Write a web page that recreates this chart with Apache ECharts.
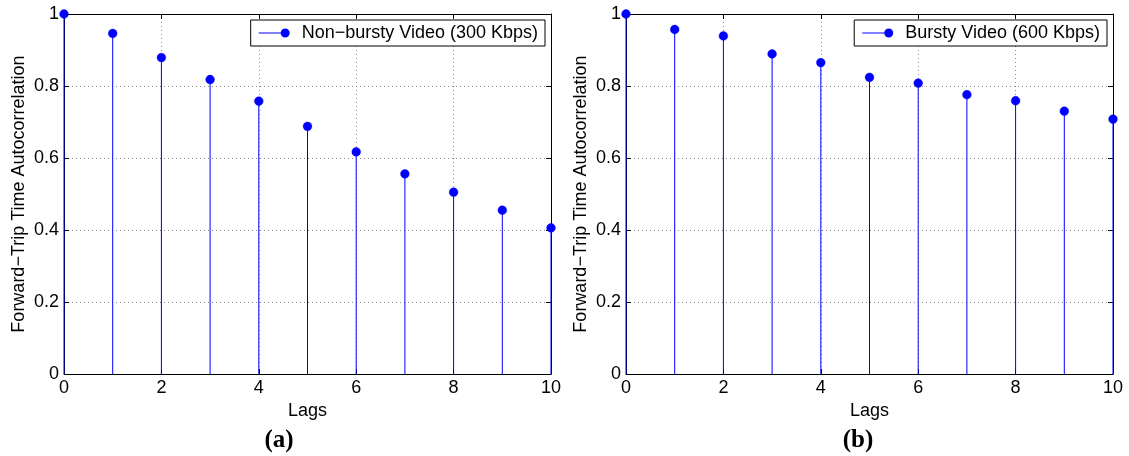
<!DOCTYPE html>
<html>
<head>
<meta charset="utf-8">
<script src="https://cdn.jsdelivr.net/npm/echarts@6/dist/echarts.min.js"></script>
<style>
  html, body { margin: 0; padding: 0; background: #fff; }
  #chart { width: 1129px; height: 456px; }
</style>
</head>
<body>
<div id="chart"></div>
<script>
// Autocorrelation of forward-trip time versus lag, two video traffic types
const lags = [0, 1, 2, 3, 4, 5, 6, 7, 8, 9, 10];
const nonBurstyAcf = [1.0, 0.946, 0.879, 0.818, 0.758, 0.688, 0.617, 0.556, 0.505, 0.455, 0.406];
const burstyAcf = [1.0, 0.957, 0.939, 0.889, 0.865, 0.824, 0.808, 0.776, 0.759, 0.730, 0.708];
const seriesNames = ['Non\u2212bursty Video (300 Kbps)', 'Bursty Video (600 Kbps)'];
const panelLabels = ['(a)', '(b)'];
const xLabel = 'Lags';
const yLabel = 'Forward\u2212Trip Time Autocorrelation';

const FONT = '"Liberation Sans", Arial, Helvetica, sans-serif';
const SERIF = '"Liberation Serif", "DejaVu Serif", serif';
const BLUE = '#0000ff';

// stem: vertical line from the baseline up to the value, capped with a dot
function stemRenderer(params, api) {
  const x = api.value(0), y = api.value(1);
  const top = api.coord([x, y]);
  const base = api.coord([x, 0]);
  return {
    type: 'group',
    children: [
      { type: 'line', shape: { x1: top[0], y1: base[1], x2: top[0], y2: top[1] },
        style: { stroke: BLUE, lineWidth: 1 } },
      { type: 'circle', shape: { cx: top[0], cy: top[1], r: 4.4 },
        style: { fill: BLUE, stroke: BLUE, lineWidth: 0.4 } }
    ]
  };
}

const grids = [
  { left: 64, right: 578, top: 14, bottom: 82 },
  { left: 626, right: 16, top: 14, bottom: 82 }
];

const xAxes = [], yAxes = [], series = [];
const tickLbl = { color: '#000', fontFamily: FONT, fontSize: 18 };
const dataSets = [nonBurstyAcf, burstyAcf];
const edge = { show: true, onZero: false, lineStyle: { color: '#000', width: 1 } };
const inTick = { show: true, inside: true, length: 5, lineStyle: { color: '#000' } };
const dotted = { show: true, lineStyle: { color: '#8a8a8a', type: [1, 3], width: 1 } };

grids.forEach((g, i) => {
  // bottom x axis with labels and dotted grid
  xAxes.push({
    type: 'value', gridIndex: i, min: 0, max: 10, interval: 2, position: 'bottom',
    name: xLabel, nameLocation: 'middle', nameGap: 25,
    nameTextStyle: { color: '#000', fontFamily: FONT, fontSize: 18 },
    axisLine: edge, axisTick: inTick,
    axisLabel: Object.assign({ margin: 5 }, tickLbl),
    splitLine: dotted
  });
  // top x axis: box edge with inward ticks
  xAxes.push({
    type: 'value', gridIndex: i, min: 0, max: 10, interval: 2, position: 'top',
    axisLine: edge, axisTick: inTick, axisLabel: { show: false }, splitLine: { show: false }
  });
  yAxes.push({
    type: 'value', gridIndex: i, min: 0, max: 1, interval: 0.2, position: 'left',
    name: yLabel, nameLocation: 'middle', nameGap: 36, nameRotate: 90,
    nameTextStyle: { color: '#000', fontFamily: FONT, fontSize: 18 },
    axisLine: edge, axisTick: inTick,
    axisLabel: Object.assign({ margin: 5, formatter: v => (Math.round(v * 10) / 10).toString() }, tickLbl),
    splitLine: dotted
  });
  yAxes.push({
    type: 'value', gridIndex: i, min: 0, max: 1, interval: 0.2, position: 'right',
    axisLine: edge, axisTick: inTick, axisLabel: { show: false }, splitLine: { show: false }
  });
  series.push({
    type: 'custom', name: seriesNames[i],
    xAxisIndex: i * 2, yAxisIndex: i * 2,
    data: lags.map((l, k) => [l, dataSets[i][k]]),
    renderItem: stemRenderer, clip: false,
    itemStyle: { color: BLUE },
    z: 5
  });
});

// legend glyph: short line ending in a dot
const stemIcon = 'path://M0,4h27v1h-27z M22,4.5a4.5,4.5 0 1,1 9,0a4.5,4.5 0 1,1 -9,0z';

const legendCommon = {
  orient: 'vertical', top: 20, padding: [4, 7, 4, 8],
  backgroundColor: '#fff', borderColor: '#000', borderWidth: 1, borderRadius: 0,
  icon: stemIcon, itemWidth: 31, itemHeight: 9, itemGap: 4,
  itemStyle: { color: BLUE, borderWidth: 0 },
  textStyle: { color: '#000', fontFamily: FONT, fontSize: 18, padding: [0, 0, 0, 7] },
  selectedMode: false
};

const option = {
  backgroundColor: '#fff',
  animation: false,
  grid: grids,
  xAxis: xAxes,
  yAxis: yAxes,
  series: series,
  legend: [
    Object.assign({ data: [seriesNames[0]], right: 584 }, legendCommon),
    Object.assign({ data: [seriesNames[1]], right: 22 }, legendCommon)
  ],
  title: [
    { text: panelLabels[0], left: 279, top: 428, textAlign: 'center', padding: 0,
      textStyle: { fontFamily: SERIF, fontWeight: 'bold', fontSize: 25, color: '#000' } },
    { text: panelLabels[1], left: 858, top: 428, textAlign: 'center', padding: 0,
      textStyle: { fontFamily: SERIF, fontWeight: 'bold', fontSize: 25, color: '#000' } }
  ]
};

const chart = echarts.init(document.getElementById('chart'), null, { renderer: 'canvas' });
chart.setOption(option);
</script>
</body>
</html>
